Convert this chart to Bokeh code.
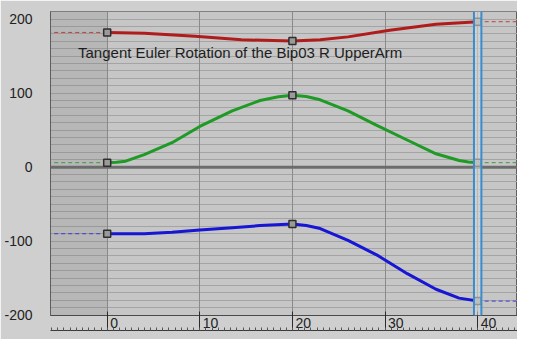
import numpy as np
from bokeh.plotting import figure
from bokeh.models import (FixedTicker, SingleIntervalTicker, LinearAxis, Range1d,
                          Span, BoxAnnotation, Label, Grid)
from bokeh.embed import file_html
from bokeh.resources import INLINE

# ---------------- data ----------------
x_ticks = [0, 10, 20, 30, 40]
x_tick_labels = ["0", "10", "20", "30", "40"]
y_ticks = [-200, -100, 0, 100, 200]
y_tick_labels = ["-200", "-100", "0", "100", "200"]

key_frames = [0, 20, 40]
red_keys = [182, 170.5, 196.5]
green_keys = [6, 97, 6]
blue_keys = [-90, -77, -181]

red_frames = [0, 4, 9.5, 14.5, 20, 23, 26, 30.5, 35.5, 40]
red_values = [182, 181, 177, 172, 170.5, 172, 176, 185, 193, 196.5]

green_frames = [0, 1, 2, 4, 7, 10, 13.5, 16.5, 18.5, 20, 21.5, 23, 26, 29, 32.5, 35.5, 38, 39, 40]
green_values = [6, 6.5, 8, 17, 33, 55, 76, 90, 95, 97, 95.5, 91, 76, 57, 36, 18, 9, 7, 6]

blue_frames = [0, 4, 7, 10, 13.5, 16.5, 20, 21.5, 23, 26, 29.3, 32.4, 35.5, 38, 40]
blue_values = [-90, -90, -88, -85, -82, -79, -77, -79, -83, -99, -120, -144, -165, -177, -181]

time_slider = 40
title_text = "Tangent Euler Rotation of the Bip03 R UpperArm"

# ---------------- figure ----------------
W, H = 517, 339
BL, BT, BB = 50, 11, 24
x0, x1 = -6.12, 44.3
p = figure(width=W, height=H, output_backend="svg", toolbar_location=None,
           x_range=Range1d(x0, x1), y_range=Range1d(-200.5, 210.3),
           x_axis_type=None, y_axis_type=None,
           min_border_left=BL, min_border_right=0, min_border_top=BT,
           min_border_bottom=BB)
p.background_fill_color = "#c6c6c6"
p.border_fill_color = "#cfcfcf"
p.outline_line_color = "#5e5e5e"
p.outline_line_width = 1

FONT = "Liberation Sans"

# y axis
yaxis = LinearAxis(ticker=FixedTicker(ticks=y_ticks),
                   major_label_overrides=dict(zip(y_ticks, y_tick_labels)),
                   axis_line_color="#5e5e5e", major_tick_out=0, major_tick_in=0,
                   minor_tick_out=0, minor_tick_in=0, major_label_standoff=18,
                   major_label_text_font=FONT, major_label_text_font_size="14px",
                   major_label_text_color="#222222")
p.add_layout(yaxis, "left")

# x axis (ruler): labels placed to the right of the bars
ppf = (W - BL) / (x1 - x0)
label_pos = [t + (3 + 3.9 * len(s)) / ppf for t, s in zip(x_ticks, x_tick_labels)]
xa = LinearAxis(ticker=FixedTicker(ticks=label_pos),
                major_label_overrides=dict(zip(label_pos, x_tick_labels)),
                axis_line_color="#4a4a4a", axis_line_width=1,
                major_tick_out=0, major_tick_in=0, minor_tick_out=0, minor_tick_in=0,
                major_label_standoff=2, major_label_text_font=FONT,
                major_label_text_font_size="14px", major_label_text_color="#222222")
p.add_layout(xa, "below")
xb = LinearAxis(ticker=SingleIntervalTicker(interval=x_ticks[1] - x_ticks[0], num_minor_ticks=15),
                axis_line_color="#3a3a3a", axis_line_width=1,
                major_tick_in=19, major_tick_out=0, major_tick_line_color="#2a2a2a",
                major_tick_line_width=1,
                minor_tick_in=3, minor_tick_out=0, minor_tick_line_color="#555555",
                major_label_text_font_size="1px", major_label_text_color=None,
                major_label_standoff=0)
p.add_layout(xb, "below")

# grids
p.add_layout(Grid(dimension=1, ticker=SingleIntervalTicker(interval=10),
                  grid_line_color="#a4a4a4", grid_line_width=1))
p.add_layout(Grid(dimension=0, ticker=FixedTicker(ticks=x_ticks),
                  grid_line_color="#8a8a8a", grid_line_width=1))

# left shaded region (before frame 0)
p.add_layout(BoxAnnotation(right=0, fill_color="#6a6a6a", fill_alpha=0.16,
                           line_color=None, level="underlay"))
# zero line
p.add_layout(Span(location=0, dimension="width", line_color="#6c6c6c",
                  line_width=3, level="underlay"))

# out-of-range dashed lines, curves and keys
series = [
    (red_frames, red_values, red_keys, "#b01c1c", "#c4403c"),
    (green_frames, green_values, green_keys, "#1f9a26", "#3a9e3a"),
    (blue_frames, blue_values, blue_keys, "#1616d4", "#3a3ad0"),
]
for fr, vals, keys, col, dcol in series:
    p.ray(x=[key_frames[0]], y=[keys[0]], length=0, angle=np.pi,
          line_color=dcol, line_width=1, line_dash="4 3")
    p.ray(x=[key_frames[-1]], y=[keys[-1]], length=0, angle=0,
          line_color=dcol, line_width=1, line_dash="4 3")
    p.line(fr, vals, line_color=col, line_width=3, line_join="round")
    p.scatter(key_frames, keys, marker="square", size=7, fill_color="#9a9a9a",
              line_color="#2e2e2e", line_width=1.5)

# time slider
p.add_layout(BoxAnnotation(left=time_slider - 0.4, right=time_slider + 0.4,
                           fill_color="#d4d8da", fill_alpha=0.6, line_color=None))
for loc in (time_slider - 0.4, time_slider + 0.4):
    p.add_layout(Span(location=loc, dimension="height", line_color="#3a8ccc",
                      line_width=2))

# title text
p.add_layout(Label(x=-3.15, y=155, text=title_text, text_font=FONT,
                   text_font_size="15px", text_baseline="middle", text_align="left",
                   text_color="#1e1e1e"))

open("out.html", "w").write(file_html(p, INLINE))
